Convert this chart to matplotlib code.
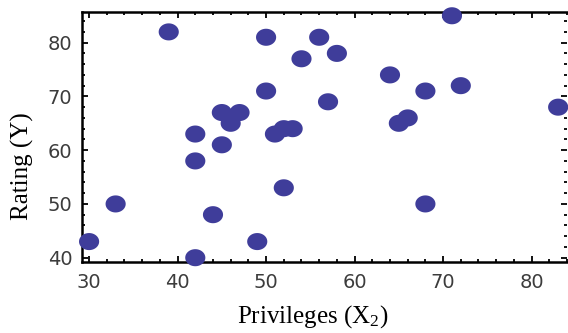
import matplotlib
matplotlib.use("Agg")
import matplotlib.pyplot as plt
import numpy as np
from matplotlib.path import Path
from matplotlib.ticker import MultipleLocator

plt.rcParams['mathtext.fontset'] = 'custom'
plt.rcParams['mathtext.rm'] = 'Liberation Serif'
plt.rcParams['mathtext.it'] = 'Liberation Serif:italic'

# Data: rating (Y) vs privileges (X2)
privileges = [30, 51, 68, 45, 56, 49, 42, 50, 72, 45, 53, 47, 57, 83, 54,
              50, 64, 65, 46, 68, 33, 52, 52, 42, 42, 66, 58, 44, 71, 39]
rating = [43, 63, 71, 61, 81, 43, 58, 71, 72, 67, 64, 67, 69, 68, 77,
          81, 74, 65, 65, 50, 50, 64, 53, 40, 63, 66, 78, 48, 85, 82]

x_label = r'Privileges (X$_{\mathrm{2}}$)'
y_label = 'Rating (Y)'

# ellipse marker (slightly wider than tall)
t = np.linspace(0, 2 * np.pi, 60)
ell = Path(np.column_stack([1.18 * np.cos(t), np.sin(t)]), closed=True)

fig = plt.figure(figsize=(5.68, 3.33), dpi=100)
ax = fig.add_axes([82 / 568, 1 - 262 / 333, (567 - 82) / 568, (262 - 12) / 333])

ax.scatter(privileges, rating, marker=ell, s=14.5 ** 2, color='#3f3d9a',
           edgecolors='none', zorder=3, clip_on=False)

ax.set_xlim(29.2, 84.0)
ax.set_ylim(39.2, 85.7)
ax.xaxis.set_major_locator(MultipleLocator(10))
ax.xaxis.set_minor_locator(MultipleLocator(2))
ax.yaxis.set_major_locator(MultipleLocator(10))
ax.yaxis.set_minor_locator(MultipleLocator(2))

ax.tick_params(which='both', direction='in', top=True, right=True,
               width=1.3, color='black')
ax.tick_params(which='major', length=4.5, labelsize=14, labelcolor='#3c3c3c')
ax.tick_params(axis='x', which='major', pad=8)
ax.tick_params(axis='y', which='major', pad=7)
ax.tick_params(which='minor', length=2.2)
for lab in ax.get_xticklabels() + ax.get_yticklabels():
    lab.set_family('DejaVu Sans')

for s in ['left', 'bottom', 'top']:
    ax.spines[s].set_linewidth(1.8)
ax.spines['right'].set_visible(False)

ax.set_xlabel(x_label, family='Liberation Serif', fontsize=18)
ax.set_ylabel(y_label, family='Liberation Serif', fontsize=18)
ax.xaxis.set_label_coords(0.476, -0.165)
ax.yaxis.set_label_coords(-0.10, 0.385)

fig.savefig('out.png', dpi=100)
